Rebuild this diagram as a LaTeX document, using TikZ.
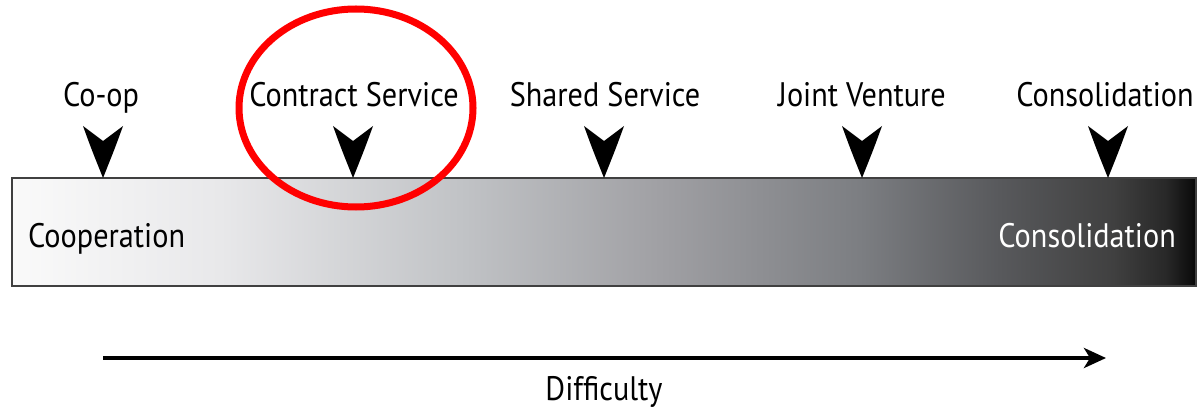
\documentclass[tikz,border=0pt]{standalone}
\usepackage{fontspec}
\setmainfont{PT Sans}[FakeStretch=0.89]
\usetikzlibrary{arrows.meta}
\definecolor{g0}{HTML}{FAFAFA}
\definecolor{g1}{HTML}{E8E8EA}
\definecolor{g2}{HTML}{C1C3C6}
\definecolor{g3}{HTML}{A0A0A4}
\definecolor{g4}{HTML}{7C7E82}
\definecolor{g5}{HTML}{58595C}
\definecolor{g6}{HTML}{404040}
\definecolor{g7}{HTML}{282828}
\definecolor{g8}{HTML}{080808}
\pgfdeclarehorizontalshading{barshade}{100bp}{%
  color(0bp)=(g0); color(25bp)=(g0); color(33.8bp)=(g1);
  color(43.9bp)=(g2); color(52.35bp)=(g3); color(60.8bp)=(g4);
  color(66.7bp)=(g5); color(71.5bp)=(g6); color(73.75bp)=(g7);
  color(75bp)=(g8); color(100bp)=(g8)}
\tikzset{
  lbl/.style={font=\fontsize{34}{38}\selectfont, anchor=base, inner sep=0pt},
  marker/.style={fill=black, draw=none},
}
\begin{document}
\begin{tikzpicture}[x=1pt,y=-1pt]
\useasboundingbox (0,0) rectangle (1198,414);
% bar
\shade[shading=barshade] (12,178) rectangle (1196,286);
\draw[line width=2pt, black!75] (12,178) rectangle (1196,286);
\node[lbl, anchor=base west] (coop) at (28,247) {Cooperation};
\node[lbl, anchor=base east, text=white] (cons) at (1176,247) {Consolidation};
% top labels
\node[lbl] (l1) at (101,107) {Co-op};
\node[lbl] (l2) at (354,107) {Contract Service};
\node[lbl] (l3) at (605,107) {Shared Service};
\node[lbl] (l4) at (862,107) {Joint Venture};
\node[lbl] (l5) at (1105,107) {Consolidation};
% markers
\foreach \x in {103,353,604,862,1108}{
  \fill[marker] (\x-20,126) -- (\x,141) -- (\x+20,126)
    .. controls (\x+12,148) .. (\x,178)
    .. controls (\x-12,148) .. cycle;
}
% difficulty arrow
\coordinate (a0) at (103,358);
\coordinate (a1) at (1106,358);
\draw[line width=4pt, -{Stealth[length=22pt,width=20pt,inset=6pt]}] (a0) -- (a1);
\node[lbl] (diff) at (604,400) {Difficulty};
% red ellipse
\draw[red, line width=7pt] (356,108) ellipse [x radius=117, y radius=99];
\end{tikzpicture}
\end{document}
